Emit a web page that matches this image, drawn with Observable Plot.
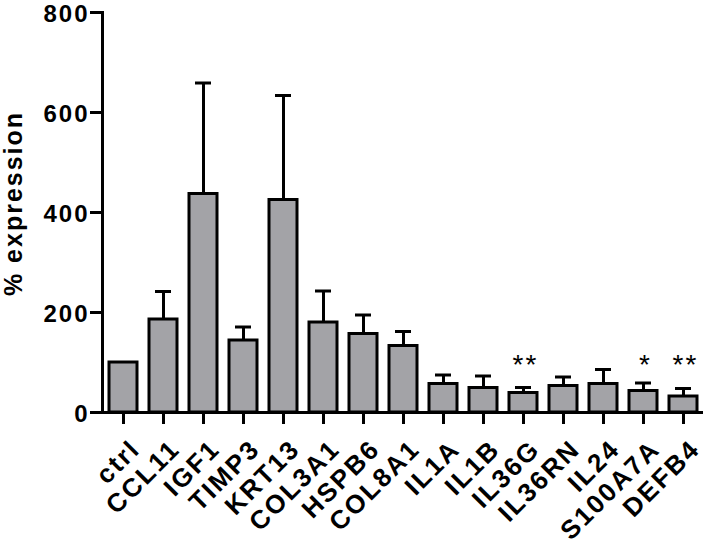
<!DOCTYPE html>
<html>
<head>
<meta charset="utf-8">
<script src="https://cdn.jsdelivr.net/npm/d3@7"></script>
<script src="https://cdn.jsdelivr.net/npm/@observablehq/plot@0.6"></script>
<style>
  html, body { margin: 0; padding: 0; background: #fff; }
  #chart svg { font-family: "Liberation Sans", Arial, sans-serif; }
  #chart svg text { letter-spacing: 2px; }
  #chart svg g.xlab text { letter-spacing: 2.2px; }
</style>
</head>
<body>
<div id="chart"></div>
<script>
const genes = ["ctrl","CCL11","IGF1","TIMP3","KRT13","COL3A1","HSPB6","COL8A1","IL1A","IL1B","IL36G","IL36RN","IL24","S100A7A","DEFB4"];
const means = [100,186,437,144,425,180,157,133,57,49,39,53,57,43,32];
const errs  = [0,56,222,27,209,63,38,29,18,24,11,18,29,16,16];
const sig   = ["","","","","","","","","","","**","","","*","**"];
const yTicks = [0,200,400,600,800];
const yLabel = "% expression";

const rows = genes.map((g, i) => ({gene: g, mean: means[i], err: errs[i], top: means[i] + errs[i], sig: sig[i]}));
const errRows = rows.filter(d => d.err > 0);
const sigRows = rows.filter(d => d.sig);

const chart = Plot.plot({
  width: 705,
  height: 544,
  marginLeft: 102,
  marginRight: 2,
  marginTop: 12,
  marginBottom: 132,
  style: {fontFamily: "'Liberation Sans', Arial, sans-serif", background: "#fff"},
  x: {domain: genes, paddingInner: 0.3, paddingOuter: 0.15},
  y: {domain: [0, 800]},
  marks: [
    Plot.barY(rows, {x: "gene", y: "mean", fill: "#a3a3a7", stroke: "#000", strokeWidth: 3}),
    Plot.ruleX(errRows, {x: "gene", y1: "mean", y2: "top", stroke: "#000", strokeWidth: 3}),
    Plot.tickY(errRows, {x: "gene", y: "top", stroke: "#000", strokeWidth: 3, insetLeft: 6, insetRight: 6}),
    Plot.text(sigRows, {x: "gene", y: 100, text: "sig", fontSize: 28, fill: "#000", dx: 2, dy: 3}),
    Plot.axisY({ticks: yTicks, tickSize: 12, tickPadding: 1, strokeWidth: 3, fontSize: 24, fontWeight: "bold", label: null, tickFormat: d => String(d), textStroke: "none"}),
    Plot.ruleY([0], {stroke: "#000", strokeWidth: 3}),
    Plot.axisX({tickSize: 12, strokeWidth: 3, tickFormat: () => "", label: null}),
    Plot.text(genes, {x: d => d, text: d => d, frameAnchor: "bottom", textAnchor: "end", lineAnchor: "top", rotate: -45, dx: 5, dy: 25, fontSize: 26, fontWeight: "bold", fill: "#000", className: "xlab"}),
    Plot.frame({anchor: "left", stroke: "#000", strokeWidth: 3}),
    Plot.text([yLabel], {frameAnchor: "left", textAnchor: "middle", rotate: -90, dx: -89, dy: -9, fontSize: 25, fontWeight: "bold", fill: "#000", text: d => d})
  ]
});
// nudge the top tick label slightly down so it sits inside the picture like the reference
chart.querySelectorAll("g[aria-label='y-axis tick label'] text").forEach(t => {
  t.setAttribute("dy", (parseFloat(t.getAttribute("dy")) || 0) + 1.5);
});
document.getElementById("chart").appendChild(chart);
</script>
</body>
</html>
